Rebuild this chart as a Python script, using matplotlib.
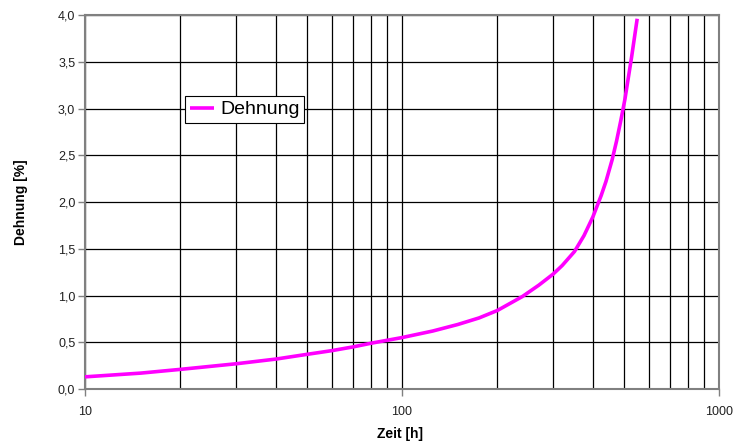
import matplotlib
matplotlib.use("Agg")
import matplotlib.pyplot as plt
from matplotlib.ticker import FixedLocator, FuncFormatter, NullFormatter

plt.rcParams['font.family'] = ['Liberation Sans', 'DejaVu Sans']

zeit = [10, 15, 20, 30, 40, 50, 60, 70, 80, 100, 125, 150, 175, 200, 240, 270, 300, 320, 350,
        375, 400, 425, 440, 460, 475, 490, 505, 530, 552]
dehnung = [0.13, 0.17, 0.21, 0.27, 0.32, 0.37, 0.41, 0.45, 0.49, 0.55, 0.62, 0.69, 0.76, 0.84, 0.99,
           1.11, 1.23, 1.32, 1.47, 1.64, 1.84, 2.07, 2.22, 2.45, 2.65, 2.87, 3.10, 3.55, 3.96]
y_ticks = [0.0, 0.5, 1.0, 1.5, 2.0, 2.5, 3.0, 3.5, 4.0]
x_ticks = [10, 100, 1000]

fig = plt.figure(figsize=(7.36, 4.44), dpi=100)
ax = fig.add_axes([85/736, 1-389/444, (719-85)/736, (389-15)/444])

ax.plot(zeit, dehnung, color='#FF00FF', lw=2.6, label='Dehnung', zorder=3,
        solid_joinstyle='round', solid_capstyle='butt')
ax.set_xscale('log')
ax.set_xlim(10, 1000)
ax.set_ylim(0, 4.0)

ax.xaxis.set_major_locator(FixedLocator(x_ticks))
minor = [m * d for d in (10, 100) for m in range(2, 10)]
ax.xaxis.set_minor_locator(FixedLocator(minor))
ax.xaxis.set_major_formatter(FuncFormatter(lambda v, p: f"{int(v)}"))
ax.xaxis.set_minor_formatter(NullFormatter())
ax.yaxis.set_major_locator(FixedLocator(y_ticks))
ax.yaxis.set_major_formatter(FuncFormatter(lambda v, p: f"{v:.1f}".replace('.', ',')))

ax.grid(True, which='major', axis='both', color='black', lw=0.9)
ax.grid(True, which='minor', axis='x', color='black', lw=0.9)
ax.tick_params(axis='both', which='major', labelsize=9, direction='out', length=5,
               color='#808080', width=1, labelcolor='#202020')
ax.tick_params(axis='x', which='minor', length=0)
ax.tick_params(axis='x', pad=7)
ax.tick_params(axis='y', pad=2)
for s in ax.spines.values():
    s.set_color('#808080')
    s.set_linewidth(1.5)

ax.set_xlabel('Zeit [h]', fontsize=10, fontweight='bold')
ax.set_ylabel('Dehnung [%]', fontsize=10, fontweight='bold')
ax.xaxis.set_label_coords(0.5 + (400 - 402) / 634, (389 - 434) / 374)
ax.xaxis.label.set_va('center')
ax.yaxis.set_label_coords((21 - 85) / 634, 0.5)
ax.yaxis.label.set_va('center')

leg = ax.legend(loc='upper left', bbox_to_anchor=((185-85)/634, (389-96)/374), fontsize=14,
                frameon=True, fancybox=False, framealpha=1, edgecolor='black',
                handlelength=1.25, handletextpad=0.3, borderpad=0.25, borderaxespad=0)
leg.get_frame().set_linewidth(0.8)

fig.savefig('out.png', dpi=100, facecolor='white')
